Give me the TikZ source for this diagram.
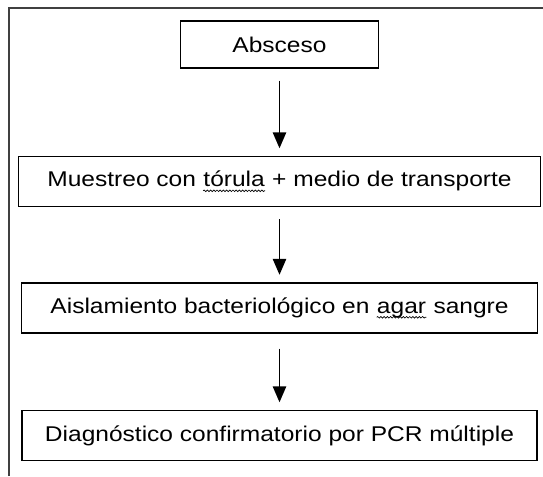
\documentclass[tikz,border=0pt]{standalone}
\usepackage{fontspec}
\setmainfont[FakeStretch=1.15]{Liberation Sans}
\usetikzlibrary{arrows.meta,decorations.pathmorphing}

\tikzset{
  stepbox/.style={draw, line width=1.3pt, inner sep=0pt, minimum height=37.5pt,
    font=\fontsize{16}{20}\selectfont},
  flow/.style={-{Triangle[length=12pt,width=10pt]}, line width=1.3pt, shorten <=9pt, shorten >=5.5pt}
}
% wavy spelling mark under a word
\newcommand\squig[1]{\tikz[baseline=(w.base)]{\node[inner sep=0pt, draw=none, minimum width=0pt, minimum height=0pt] (w) {#1};
  \draw[decorate, decoration={snake, amplitude=0.6pt, segment length=2.4pt}, line width=0.5pt]
    ([yshift=-3pt]w.base west) -- ([yshift=-3pt]w.base east);}}

\begin{document}
\begin{tikzpicture}[x=0.75pt,y=-0.75pt]
  \useasboundingbox (0,0) rectangle (543,476);
  % outer frame, open at right and bottom
  \draw[line width=0.8pt, black!75] (9,476) -- (9,8) -- (543,8);

  \node[stepbox, minimum width=148.5pt, minimum height=35pt] (absceso) at (279.5,44.5) {Absceso};
  \node[stepbox, minimum width=391.5pt] (muestreo) at (279.5,181.5) {Muestreo con \squig{tórula} + medio de transporte};
  \node[stepbox, minimum width=387pt] (aislamiento) at (279.5,308) {Aislamiento bacteriológico en \squig{agar} sangre};
  \node[stepbox, minimum width=386pt] (diagnostico) at (279.5,435.5) {Diagnóstico confirmatorio por PCR múltiple};

  \draw[flow] (absceso.south) -- (muestreo.north);
  \draw[flow] (muestreo.south) -- (aislamiento.north);
  \draw[flow, shorten <=11pt] (aislamiento.south) -- (diagnostico.north);
\end{tikzpicture}
\end{document}
